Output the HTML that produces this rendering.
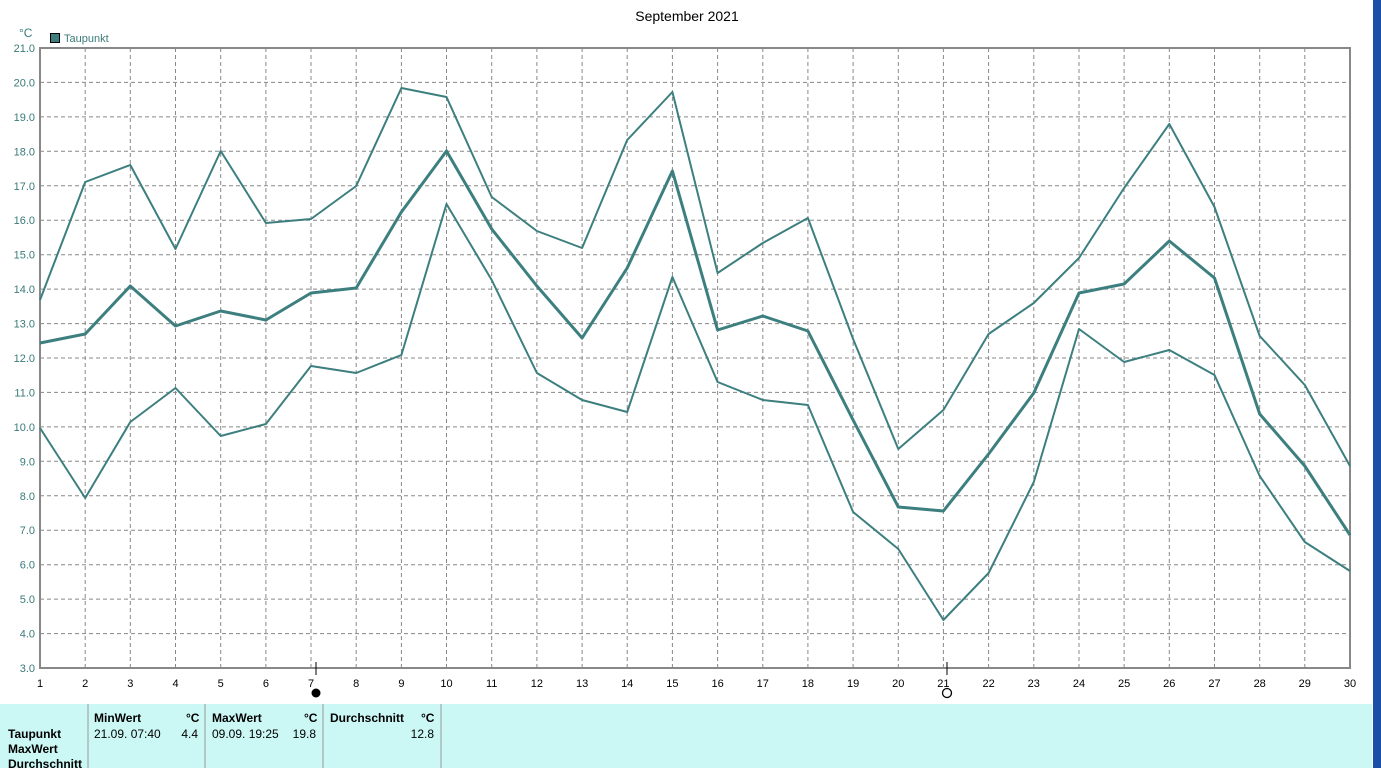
<!DOCTYPE html>
<html><head><meta charset="utf-8"><style>
body{margin:0;width:1381px;height:768px;overflow:hidden;background:#fff;font-family:"Liberation Sans",sans-serif;}
svg{position:absolute;left:0;top:0}
</style></head><body>
<svg width="1381" height="768" xmlns="http://www.w3.org/2000/svg" font-family="Liberation Sans, sans-serif">
<rect x="1373" y="0" width="8" height="768" fill="#1a4fa8"/>
<rect x="0" y="704" width="1372" height="64" fill="#cbf8f5"/>
<g stroke="#999" stroke-width="1">
<line x1="88" y1="704" x2="88" y2="768"/><line x1="205" y1="704" x2="205" y2="768"/><line x1="323" y1="704" x2="323" y2="768"/><line x1="441" y1="704" x2="441" y2="768"/>
</g>
<g font-size="12" fill="#000" font-weight="bold">
<text x="8" y="738">Taupunkt</text><text x="8" y="753">MaxWert</text><text x="8" y="768">Durchschnitt</text>
<text x="94" y="722">MinWert</text><text x="186" y="722">°C</text>
<text x="212" y="722">MaxWert</text><text x="304" y="722">°C</text>
<text x="330" y="722">Durchschnitt</text><text x="421" y="722">°C</text>
</g>
<g font-size="12" fill="#000">
<text x="94" y="738">21.09.  07:40</text><text x="198" y="738" text-anchor="end">4.4</text>
<text x="212" y="738">09.09.  19:25</text><text x="316" y="738" text-anchor="end">19.8</text>
<text x="434" y="738" text-anchor="end">12.8</text>
</g>
<text x="687" y="21" font-size="14" text-anchor="middle" fill="#000">September 2021</text>
<text x="19" y="37" font-size="12" fill="#3a7a7a">°C</text>
<rect x="50.5" y="33.5" width="9" height="9" fill="#3d7f7f" stroke="#000"/>
<text x="64" y="42" font-size="11" fill="#3a7a7a">Taupunkt</text>
<g stroke="#888" stroke-dasharray="4,3" stroke-width="1">
<line x1="40" x2="1350" y1="82.4" y2="82.4"/><line x1="40" x2="1350" y1="116.9" y2="116.9"/><line x1="40" x2="1350" y1="151.3" y2="151.3"/><line x1="40" x2="1350" y1="185.8" y2="185.8"/><line x1="40" x2="1350" y1="220.2" y2="220.2"/><line x1="40" x2="1350" y1="254.7" y2="254.7"/><line x1="40" x2="1350" y1="289.1" y2="289.1"/><line x1="40" x2="1350" y1="323.6" y2="323.6"/><line x1="40" x2="1350" y1="358" y2="358"/><line x1="40" x2="1350" y1="392.4" y2="392.4"/><line x1="40" x2="1350" y1="426.9" y2="426.9"/><line x1="40" x2="1350" y1="461.3" y2="461.3"/><line x1="40" x2="1350" y1="495.8" y2="495.8"/><line x1="40" x2="1350" y1="530.2" y2="530.2"/><line x1="40" x2="1350" y1="564.7" y2="564.7"/><line x1="40" x2="1350" y1="599.1" y2="599.1"/><line x1="40" x2="1350" y1="633.6" y2="633.6"/>
<line y1="48" y2="668" x1="85.2" x2="85.2"/><line y1="48" y2="668" x1="130.3" x2="130.3"/><line y1="48" y2="668" x1="175.5" x2="175.5"/><line y1="48" y2="668" x1="220.7" x2="220.7"/><line y1="48" y2="668" x1="265.9" x2="265.9"/><line y1="48" y2="668" x1="311" x2="311"/><line y1="48" y2="668" x1="356.2" x2="356.2"/><line y1="48" y2="668" x1="401.4" x2="401.4"/><line y1="48" y2="668" x1="446.5" x2="446.5"/><line y1="48" y2="668" x1="491.7" x2="491.7"/><line y1="48" y2="668" x1="536.9" x2="536.9"/><line y1="48" y2="668" x1="582.1" x2="582.1"/><line y1="48" y2="668" x1="627.2" x2="627.2"/><line y1="48" y2="668" x1="672.4" x2="672.4"/><line y1="48" y2="668" x1="717.6" x2="717.6"/><line y1="48" y2="668" x1="762.8" x2="762.8"/><line y1="48" y2="668" x1="807.9" x2="807.9"/><line y1="48" y2="668" x1="853.1" x2="853.1"/><line y1="48" y2="668" x1="898.3" x2="898.3"/><line y1="48" y2="668" x1="943.4" x2="943.4"/><line y1="48" y2="668" x1="988.6" x2="988.6"/><line y1="48" y2="668" x1="1033.8" x2="1033.8"/><line y1="48" y2="668" x1="1079" x2="1079"/><line y1="48" y2="668" x1="1124.1" x2="1124.1"/><line y1="48" y2="668" x1="1169.3" x2="1169.3"/><line y1="48" y2="668" x1="1214.5" x2="1214.5"/><line y1="48" y2="668" x1="1259.7" x2="1259.7"/><line y1="48" y2="668" x1="1304.8" x2="1304.8"/>
</g>
<rect x="40" y="48" width="1310" height="620" fill="none" stroke="#888" stroke-width="2"/>
<g font-size="11" fill="#3a7a7a" text-anchor="end">
<text x="35" y="52">21.0</text><text x="35" y="86.4">20.0</text><text x="35" y="120.9">19.0</text><text x="35" y="155.3">18.0</text><text x="35" y="189.8">17.0</text><text x="35" y="224.2">16.0</text><text x="35" y="258.7">15.0</text><text x="35" y="293.1">14.0</text><text x="35" y="327.6">13.0</text><text x="35" y="362">12.0</text><text x="35" y="396.4">11.0</text><text x="35" y="430.9">10.0</text><text x="35" y="465.3">9.0</text><text x="35" y="499.8">8.0</text><text x="35" y="534.2">7.0</text><text x="35" y="568.7">6.0</text><text x="35" y="603.1">5.0</text><text x="35" y="637.6">4.0</text><text x="35" y="672">3.0</text>
</g>
<g font-size="11" fill="#000" text-anchor="middle">
<text x="40" y="687">1</text><text x="85.2" y="687">2</text><text x="130.3" y="687">3</text><text x="175.5" y="687">4</text><text x="220.7" y="687">5</text><text x="265.9" y="687">6</text><text x="311" y="687">7</text><text x="356.2" y="687">8</text><text x="401.4" y="687">9</text><text x="446.5" y="687">10</text><text x="491.7" y="687">11</text><text x="536.9" y="687">12</text><text x="582.1" y="687">13</text><text x="627.2" y="687">14</text><text x="672.4" y="687">15</text><text x="717.6" y="687">16</text><text x="762.8" y="687">17</text><text x="807.9" y="687">18</text><text x="853.1" y="687">19</text><text x="898.3" y="687">20</text><text x="943.4" y="687">21</text><text x="988.6" y="687">22</text><text x="1033.8" y="687">23</text><text x="1079" y="687">24</text><text x="1124.1" y="687">25</text><text x="1169.3" y="687">26</text><text x="1214.5" y="687">27</text><text x="1259.7" y="687">28</text><text x="1304.8" y="687">29</text><text x="1350" y="687">30</text>
</g>
<line x1="316" y1="662" x2="316" y2="675" stroke="#000"/><circle cx="316" cy="693" r="4.5" fill="#000"/>
<line x1="947" y1="662" x2="947" y2="675" stroke="#000"/><circle cx="947" cy="693" r="4.5" fill="none" stroke="#000" stroke-width="1.3"/>
<g fill="none" stroke="#3d7f7f" stroke-linejoin="round">
<polyline stroke-width="2" points="40,300 85.2,182 130.3,165 175.5,249 220.7,151 265.9,223 311,219 356.2,186 401.4,88 446.5,97 491.7,197 536.9,231 582.1,248 627.2,140 672.4,92 717.6,273 762.8,243 807.9,218 853.1,339 898.3,449 943.4,410 988.6,334 1033.8,303 1079,258 1124.1,188 1169.3,124 1214.5,207 1259.7,336 1304.8,385 1350,466"/>
<polyline stroke-width="3" points="40,343 85.2,334 130.3,286 175.5,326 220.7,311 265.9,320 311,293 356.2,288 401.4,212 446.5,151 491.7,229 536.9,286 582.1,338 627.2,268 672.4,171 717.6,330 762.8,316 807.9,331 853.1,420 898.3,507 943.4,511 988.6,454 1033.8,393 1079,293 1124.1,284 1169.3,241 1214.5,278 1259.7,414 1304.8,466 1350,535"/>
<polyline stroke-width="2" points="40,428 85.2,498 130.3,422 175.5,388 220.7,436 265.9,424 311,366 356.2,373 401.4,355 446.5,204 491.7,280 536.9,373 582.1,400 627.2,412 672.4,277 717.6,382 762.8,400 807.9,405 853.1,512 898.3,549 943.4,620 988.6,573 1033.8,482 1079,329 1124.1,362 1169.3,350 1214.5,375 1259.7,476 1304.8,542 1350,571"/>
</g>
</svg>
</body></html>
